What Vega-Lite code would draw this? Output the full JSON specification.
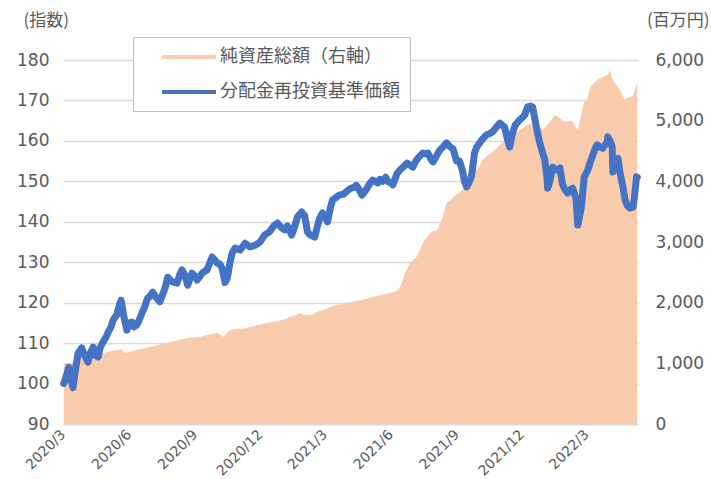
{
 "$schema": "https://vega.github.io/schema/vega-lite/v6.json",
 "width": 575,
 "height": 364,
 "autosize": "none",
 "padding": {"left": 63, "top": 60, "right": 73, "bottom": 55},
 "background": "white",
 "config": {
  "view": {"stroke": null},
  "axis": {"labelColor": "#595959", "titleColor": "#595959", "labelFont": "DejaVu Sans", "titleFont": "Noto Sans CJK JP", "titleFontWeight": "normal"}
 },
 "datasets": {
  "nav": [
   {"date":"2020-03-02","v":100},{"date":"2020-03-05","v":101.5},{"date":"2020-03-09","v":104},{"date":"2020-03-12","v":101},{"date":"2020-03-15","v":99},{"date":"2020-03-18","v":103},{"date":"2020-03-22","v":107.5},{"date":"2020-03-27","v":108.8},{"date":"2020-03-31","v":107},{"date":"2020-04-05","v":105.3},{"date":"2020-04-08","v":107.5},{"date":"2020-04-12","v":109},{"date":"2020-04-15","v":107},{"date":"2020-04-19","v":106.6},{"date":"2020-04-22","v":109},{"date":"2020-04-26","v":110.3},{"date":"2020-04-30","v":111.5},{"date":"2020-05-03","v":112.7},{"date":"2020-05-07","v":114},{"date":"2020-05-10","v":115.7},{"date":"2020-05-15","v":117},{"date":"2020-05-18","v":119},{"date":"2020-05-21","v":120.6},{"date":"2020-05-23","v":118.5},{"date":"2020-05-25","v":116.5},{"date":"2020-05-29","v":113.2},{"date":"2020-06-02","v":115},{"date":"2020-06-05","v":115.2},{"date":"2020-06-08","v":114},{"date":"2020-06-12","v":114.5},{"date":"2020-06-16","v":116},{"date":"2020-06-19","v":117.4},{"date":"2020-06-23","v":119},{"date":"2020-06-27","v":121.1},{"date":"2020-06-30","v":121.5},{"date":"2020-07-04","v":122.6},{"date":"2020-07-08","v":121.5},{"date":"2020-07-14","v":120.2},{"date":"2020-07-18","v":122},{"date":"2020-07-22","v":124},{"date":"2020-07-25","v":126.3},{"date":"2020-07-29","v":125.5},{"date":"2020-08-01","v":125.1},{"date":"2020-08-07","v":124.8},{"date":"2020-08-11","v":127},{"date":"2020-08-14","v":128.1},{"date":"2020-08-18","v":126.8},{"date":"2020-08-22","v":124.3},{"date":"2020-08-25","v":126},{"date":"2020-08-28","v":127.3},{"date":"2020-09-01","v":126.5},{"date":"2020-09-04","v":125.6},{"date":"2020-09-08","v":126.5},{"date":"2020-09-11","v":127.3},{"date":"2020-09-15","v":127.8},{"date":"2020-09-18","v":128.1},{"date":"2020-09-22","v":130},{"date":"2020-09-25","v":131.3},{"date":"2020-09-29","v":130.5},{"date":"2020-10-02","v":129.8},{"date":"2020-10-06","v":129.5},{"date":"2020-10-09","v":128.5},{"date":"2020-10-13","v":125},{"date":"2020-10-16","v":126},{"date":"2020-10-20","v":130},{"date":"2020-10-23","v":132.3},{"date":"2020-10-27","v":133.5},{"date":"2020-11-03","v":133},{"date":"2020-11-10","v":134.7},{"date":"2020-11-17","v":133.8},{"date":"2020-11-24","v":134.2},{"date":"2020-12-01","v":135},{"date":"2020-12-07","v":136.7},{"date":"2020-12-14","v":137.5},{"date":"2020-12-21","v":139.2},{"date":"2020-12-25","v":139.7},{"date":"2020-12-31","v":138.5},{"date":"2021-01-04","v":138},{"date":"2021-01-08","v":139},{"date":"2021-01-14","v":136.7},{"date":"2021-01-18","v":138.7},{"date":"2021-01-22","v":141.2},{"date":"2021-01-28","v":142.4},{"date":"2021-02-01","v":141.5},{"date":"2021-02-05","v":137.5},{"date":"2021-02-08","v":136.8},{"date":"2021-02-15","v":136.2},{"date":"2021-02-19","v":139},{"date":"2021-02-22","v":140.9},{"date":"2021-02-26","v":142.2},{"date":"2021-03-02","v":141},{"date":"2021-03-05","v":140},{"date":"2021-03-09","v":143.5},{"date":"2021-03-12","v":145.4},{"date":"2021-03-17","v":146},{"date":"2021-03-21","v":146.6},{"date":"2021-03-27","v":146.8},{"date":"2021-03-31","v":147.4},{"date":"2021-04-04","v":148},{"date":"2021-04-07","v":148.3},{"date":"2021-04-11","v":148.5},{"date":"2021-04-14","v":149},{"date":"2021-04-18","v":148},{"date":"2021-04-22","v":146.6},{"date":"2021-04-26","v":147.5},{"date":"2021-04-29","v":148.3},{"date":"2021-05-03","v":149.5},{"date":"2021-05-07","v":150.3},{"date":"2021-05-10","v":150},{"date":"2021-05-14","v":149.6},{"date":"2021-05-17","v":150.5},{"date":"2021-05-21","v":150},{"date":"2021-05-25","v":151},{"date":"2021-05-28","v":150},{"date":"2021-06-02","v":149.5},{"date":"2021-06-04","v":149.1},{"date":"2021-06-07","v":150.5},{"date":"2021-06-10","v":152},{"date":"2021-06-14","v":152.8},{"date":"2021-06-17","v":153.3},{"date":"2021-06-21","v":154},{"date":"2021-06-24","v":154.5},{"date":"2021-06-28","v":154},{"date":"2021-07-02","v":153.5},{"date":"2021-07-06","v":155},{"date":"2021-07-09","v":155.7},{"date":"2021-07-13","v":156.5},{"date":"2021-07-16","v":157},{"date":"2021-07-20","v":156.8},{"date":"2021-07-23","v":157},{"date":"2021-07-27","v":155.5},{"date":"2021-07-30","v":154.8},{"date":"2021-08-03","v":156},{"date":"2021-08-06","v":157},{"date":"2021-08-10","v":158},{"date":"2021-08-13","v":158.5},{"date":"2021-08-18","v":159.5},{"date":"2021-08-23","v":158.5},{"date":"2021-08-27","v":158},{"date":"2021-09-01","v":155},{"date":"2021-09-05","v":155},{"date":"2021-09-09","v":152.8},{"date":"2021-09-12","v":150},{"date":"2021-09-15","v":148.6},{"date":"2021-09-19","v":150},{"date":"2021-09-22","v":151.5},{"date":"2021-09-26","v":157},{"date":"2021-09-29","v":158.5},{"date":"2021-10-06","v":160.2},{"date":"2021-10-10","v":161},{"date":"2021-10-13","v":161.5},{"date":"2021-10-17","v":161.8},{"date":"2021-10-21","v":162.2},{"date":"2021-10-27","v":163.5},{"date":"2021-10-31","v":164.4},{"date":"2021-11-04","v":163.8},{"date":"2021-11-07","v":163.4},{"date":"2021-11-10","v":161},{"date":"2021-11-14","v":158.5},{"date":"2021-11-18","v":162},{"date":"2021-11-22","v":164},{"date":"2021-11-28","v":165.2},{"date":"2021-12-02","v":165.8},{"date":"2021-12-05","v":166.4},{"date":"2021-12-09","v":168.4},{"date":"2021-12-13","v":168.6},{"date":"2021-12-16","v":168.4},{"date":"2021-12-19","v":165.5},{"date":"2021-12-22","v":162.7},{"date":"2021-12-26","v":159.5},{"date":"2021-12-30","v":157},{"date":"2022-01-02","v":155.3},{"date":"2022-01-05","v":151},{"date":"2022-01-06","v":148.3},{"date":"2022-01-09","v":150},{"date":"2022-01-13","v":153.5},{"date":"2022-01-16","v":153},{"date":"2022-01-18","v":152.8},{"date":"2022-01-23","v":153.3},{"date":"2022-01-27","v":149.1},{"date":"2022-01-30","v":148},{"date":"2022-02-03","v":147.1},{"date":"2022-02-07","v":148},{"date":"2022-02-10","v":148.3},{"date":"2022-02-14","v":146},{"date":"2022-02-15","v":144.6},{"date":"2022-02-17","v":139.2},{"date":"2022-02-19","v":141},{"date":"2022-02-22","v":143.6},{"date":"2022-02-26","v":151.1},{"date":"2022-03-03","v":152.8},{"date":"2022-03-06","v":154.5},{"date":"2022-03-09","v":156},{"date":"2022-03-13","v":158},{"date":"2022-03-16","v":159},{"date":"2022-03-20","v":158.5},{"date":"2022-03-24","v":158.2},{"date":"2022-03-27","v":159},{"date":"2022-03-30","v":159.7},{"date":"2022-03-31","v":161},{"date":"2022-04-03","v":160},{"date":"2022-04-06","v":158.5},{"date":"2022-04-07","v":152.3},{"date":"2022-04-10","v":154},{"date":"2022-04-14","v":155.7},{"date":"2022-04-17","v":152},{"date":"2022-04-20","v":149.6},{"date":"2022-04-24","v":145.4},{"date":"2022-04-27","v":144},{"date":"2022-05-01","v":143.4},{"date":"2022-05-05","v":143.6},{"date":"2022-05-07","v":146},{"date":"2022-05-10","v":151.1},{"date":"2022-05-11","v":151}
  ],
  "aum": [
   {"date":"2020-03-02","v":1005},{"date":"2020-03-05","v":1000},{"date":"2020-03-10","v":1010},{"date":"2020-03-16","v":1005},{"date":"2020-03-20","v":1104},{"date":"2020-03-24","v":1150},{"date":"2020-03-28","v":1220},{"date":"2020-04-02","v":1180},{"date":"2020-04-07","v":1160},{"date":"2020-04-14","v":1150},{"date":"2020-04-21","v":1137},{"date":"2020-04-27","v":1170},{"date":"2020-05-01","v":1187},{"date":"2020-05-08","v":1200},{"date":"2020-05-16","v":1220},{"date":"2020-05-22","v":1230},{"date":"2020-05-26","v":1170},{"date":"2020-06-02","v":1190},{"date":"2020-06-12","v":1220},{"date":"2020-06-20","v":1240},{"date":"2020-06-30","v":1269},{"date":"2020-07-11","v":1300},{"date":"2020-07-24","v":1335},{"date":"2020-08-04","v":1370},{"date":"2020-08-15","v":1400},{"date":"2020-08-25","v":1420},{"date":"2020-09-08","v":1434},{"date":"2020-09-19","v":1470},{"date":"2020-10-02","v":1500},{"date":"2020-10-06","v":1480},{"date":"2020-10-10","v":1434},{"date":"2020-10-16","v":1510},{"date":"2020-10-20","v":1549},{"date":"2020-10-30","v":1570},{"date":"2020-11-10","v":1580},{"date":"2020-11-17","v":1598},{"date":"2020-11-28","v":1630},{"date":"2020-12-10","v":1665},{"date":"2020-12-21","v":1690},{"date":"2021-01-01","v":1714},{"date":"2021-01-11","v":1763},{"date":"2021-01-20","v":1796},{"date":"2021-01-25","v":1829},{"date":"2021-01-30","v":1810},{"date":"2021-02-04","v":1796},{"date":"2021-02-12","v":1800},{"date":"2021-02-19","v":1850},{"date":"2021-02-26","v":1879},{"date":"2021-03-05","v":1910},{"date":"2021-03-12","v":1945},{"date":"2021-03-21","v":1965},{"date":"2021-03-31","v":1994},{"date":"2021-04-11","v":2020},{"date":"2021-04-22","v":2044},{"date":"2021-05-03","v":2080},{"date":"2021-05-12","v":2110},{"date":"2021-05-23","v":2140},{"date":"2021-06-04","v":2175},{"date":"2021-06-10","v":2200},{"date":"2021-06-14","v":2258},{"date":"2021-06-18","v":2380},{"date":"2021-06-21","v":2488},{"date":"2021-06-25","v":2580},{"date":"2021-06-28","v":2653},{"date":"2021-07-02","v":2700},{"date":"2021-07-07","v":2752},{"date":"2021-07-12","v":2870},{"date":"2021-07-16","v":2983},{"date":"2021-07-21","v":3080},{"date":"2021-07-26","v":3148},{"date":"2021-07-31","v":3180},{"date":"2021-08-05","v":3197},{"date":"2021-08-09","v":3312},{"date":"2021-08-13","v":3411},{"date":"2021-08-16","v":3576},{"date":"2021-08-18","v":3642},{"date":"2021-08-23","v":3690},{"date":"2021-08-27","v":3741},{"date":"2021-09-03","v":3800},{"date":"2021-09-09","v":3856},{"date":"2021-09-15","v":3900},{"date":"2021-09-19","v":4021},{"date":"2021-09-23","v":4060},{"date":"2021-09-29","v":4186},{"date":"2021-10-03","v":4250},{"date":"2021-10-07","v":4351},{"date":"2021-10-14","v":4420},{"date":"2021-10-21","v":4483},{"date":"2021-10-27","v":4550},{"date":"2021-10-31","v":4598},{"date":"2021-11-04","v":4640},{"date":"2021-11-10","v":4680},{"date":"2021-11-17","v":4750},{"date":"2021-11-24","v":4812},{"date":"2021-12-01","v":4870},{"date":"2021-12-08","v":4928},{"date":"2021-12-15","v":4950},{"date":"2021-12-22","v":4961},{"date":"2021-12-26","v":4895},{"date":"2021-12-30","v":4845},{"date":"2022-01-05","v":4920},{"date":"2022-01-09","v":4977},{"date":"2022-01-13","v":5050},{"date":"2022-01-16","v":5092},{"date":"2022-01-20","v":5070},{"date":"2022-01-23","v":5043},{"date":"2022-01-27","v":5000},{"date":"2022-02-02","v":4977},{"date":"2022-02-06","v":5000},{"date":"2022-02-10","v":4977},{"date":"2022-02-14","v":4900},{"date":"2022-02-17","v":4845},{"date":"2022-02-19","v":4950},{"date":"2022-02-24","v":5224},{"date":"2022-02-26","v":5300},{"date":"2022-03-02","v":5340},{"date":"2022-03-06","v":5537},{"date":"2022-03-10","v":5600},{"date":"2022-03-16","v":5669},{"date":"2022-03-20","v":5700},{"date":"2022-03-26","v":5730},{"date":"2022-03-30","v":5752},{"date":"2022-04-02","v":5800},{"date":"2022-04-03","v":5834},{"date":"2022-04-06","v":5700},{"date":"2022-04-07","v":5669},{"date":"2022-04-11","v":5600},{"date":"2022-04-17","v":5504},{"date":"2022-04-21","v":5400},{"date":"2022-04-24","v":5340},{"date":"2022-04-28","v":5380},{"date":"2022-05-01","v":5389},{"date":"2022-05-05","v":5420},{"date":"2022-05-07","v":5471},{"date":"2022-05-10","v":5600},{"date":"2022-05-11","v":5669}
  ]
 },
 "layer": [
  {
   "data": {"name": "aum"},
   "mark": {"type": "area", "opacity": 1},
   "encoding": {
    "x": {"field": "date", "type": "temporal",
     "scale": {"domain": [{"year": 2020, "month": 3, "date": 1}, {"year": 2022, "month": 5, "date": 12}]},
     "axis": {"title": null, "format": "%Y/%-m",
      "values": [{"year":2020,"month":3,"date":1},{"year":2020,"month":6,"date":1},{"year":2020,"month":9,"date":1},{"year":2020,"month":12,"date":1},{"year":2021,"month":3,"date":1},{"year":2021,"month":6,"date":1},{"year":2021,"month":9,"date":1},{"year":2021,"month":12,"date":1},{"year":2022,"month":3,"date":1}],
      "labelAngle": -45, "labelAlign": "right", "labelBaseline": "middle", "labelFontSize": 14, "labelPadding": 8,
      "ticks": false, "grid": false, "domain": true, "domainColor": "#d9d9d9", "domainWidth": 1.5, "labelOverlap": false, "labelFlush": false}},
    "y": {"field": "v", "type": "quantitative",
     "scale": {"domain": [0, 6000], "nice": false},
     "axis": {"orient": "right", "values": [0,1000,2000,3000,4000,5000,6000], "format": ",.0f", "grid": false, "domain": false, "ticks": false,
      "labelFontSize": 17, "labelPadding": 17, "title": "(百万円)", "titleAngle": 0, "titleAlign": "right", "titleBaseline": "middle", "titleX": 71, "titleY": -40, "titleFontSize": 17}},
    "color": {"datum": "純資産総額（右軸）", "type": "nominal",
     "scale": {"domain": ["純資産総額（右軸）", "分配金再投資基準価額"], "range": ["#F8CBAD", "#4472C4"]},
     "legend": {"orient": "none", "legendX": 70, "legendY": -23, "title": null, "direction": "vertical",
      "strokeColor": "#bfbfbf", "fillColor": "white", "padding": 10, "symbolOffset": 36, "symbolSize": 400,
      "symbolType": "M-2.7,-0.2H2.7V0.2H-2.7Z", "symbolStrokeWidth": 0, "symbolOpacity": 1,
      "labelFont": "Noto Sans CJK JP", "labelFontSize": 18, "labelColor": "#595959", "labelOffset": 21, "rowPadding": 16, "labelLimit": 400,
      "labelExpr": "datum.label + '　'"}}
   }
  },
  {
   "data": {"name": "nav"},
   "mark": {"type": "line", "strokeWidth": 7, "strokeJoin": "round", "strokeCap": "round"},
   "encoding": {
    "x": {"field": "date", "type": "temporal"},
    "y": {"field": "v", "type": "quantitative",
     "scale": {"domain": [90, 180], "nice": false},
     "axis": {"orient": "left", "values": [90,100,110,120,130,140,150,160,170,180], "grid": true, "gridColor": "#d9d9d9", "gridWidth": 1.3,
      "domain": false, "ticks": false, "labelFontSize": 17, "labelPadding": 14,
      "title": "(指数)", "titleAngle": 0, "titleAlign": "left", "titleBaseline": "middle", "titleX": -40, "titleY": -40, "titleFontSize": 17}},
    "color": {"datum": "分配金再投資基準価額", "type": "nominal"}
   }
  }
 ],
 "resolve": {"scale": {"y": "independent"}}
}
